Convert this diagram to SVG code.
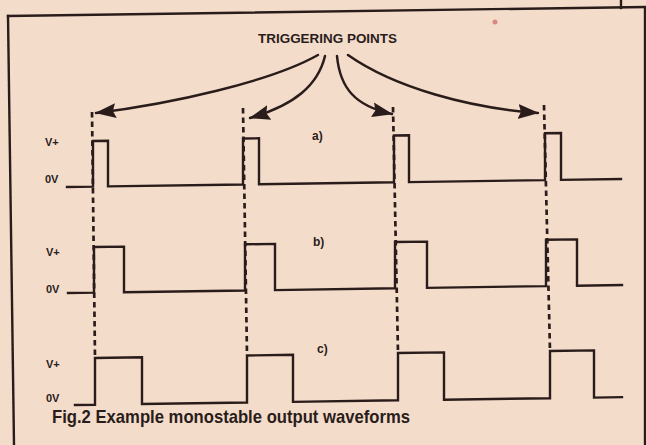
<svg xmlns="http://www.w3.org/2000/svg" width="646" height="445" viewBox="0 0 646 445">
<defs>
<style>
.ink{fill:none;stroke:#2a1c1a;stroke-width:2.4;stroke-linejoin:miter;stroke-linecap:square}
.dash{fill:none;stroke:#2a1c1a;stroke-width:2.7;stroke-dasharray:5.5 4}
.arr{fill:none;stroke:#2a1c1a;stroke-width:2.5;stroke-linecap:round}
.t{font-family:"Liberation Sans Narrow","Liberation Sans",Arial,sans-serif;font-weight:bold;fill:#2a1c1a}
</style>
<marker id="ah" markerUnits="userSpaceOnUse" markerWidth="22" markerHeight="18" viewBox="0 0 22 18" refX="20" refY="9" orient="auto">
<path d="M0,1.5 L21,9 L0,16.5 L3,9 Z" fill="#2a1c1a"/>
</marker>
</defs>
<rect width="646" height="445" fill="#f4dccb"/>
<g id="frame">
<path class="ink" d="M8,16 L646,7"/>
<path class="ink" d="M8,16 L14,445"/>
<path class="ink" d="M621,0 L621,8"/>
<path class="ink" d="M645,9 L645,445"/>
<circle cx="495" cy="22" r="2.5" fill="#d98a80"/>
</g>
<g id="title">
<text class="t" x="258" y="43" font-size="13" textLength="139" lengthAdjust="spacingAndGlyphs">TRIGGERING POINTS</text>
</g>
<g id="connectors">
<path class="arr" marker-end="url(#ah)" d="M318,55 C270,82 170,104 96,113"/>
<path class="arr" marker-end="url(#ah)" d="M325,56 C318,85 295,105 250,118"/>
<path class="arr" marker-end="url(#ah)" d="M337,56 C340,88 355,106 392,114"/>
<path class="arr" marker-end="url(#ah)" d="M348,55 C395,88 470,108 538,113"/>
<path class="dash" d="M92,112 L95,358"/>
<path class="dash" d="M243,108 L247,355"/>
<path class="dash" d="M393,107 L398,353"/>
<path class="dash" d="M544,105 L550,351"/>
</g>
<g id="wave-a">
<polyline class="ink" points="67,187 93,186.6 93,141 108,140.8 108,186.4 243,184.5 243,138.5 259,138.3 259,184.3 394,182.3 394,135.5 409,135.3 409,182.1 545,180.1 545,133.2 561,133 561,179.9 621,179"/>
<text class="t" x="45" y="146" font-size="11">V+</text>
<text class="t" x="45" y="183" font-size="11">0V</text>
<text class="t" x="312" y="140" font-size="12">a)</text>
</g>
<g id="wave-b">
<polyline class="ink" points="68,293 94,292.6 94,247 124,246.6 124,292.2 245,290.5 245,244.3 275,243.9 275,290.1 395,288.3 395,242 427,241.6 427,287.9 546,286.1 546,239.8 577,239.4 577,285.7 622,285"/>
<text class="t" x="46" y="256" font-size="11">V+</text>
<text class="t" x="46" y="293" font-size="11">0V</text>
<text class="t" x="313" y="246" font-size="12">b)</text>
</g>
<g id="wave-c">
<polyline class="ink" points="75,405 95,404.7 95,358 142,357.3 142,404 247,402.5 247,355.5 293,354.8 293,401.9 398,400.3 398,353 444,352.4 444,399.7 550,398.2 550,351 594,350.4 594,397.6 622,397.1"/>
<text class="t" x="46" y="368" font-size="11">V+</text>
<text class="t" x="46" y="402" font-size="11">0V</text>
<text class="t" x="317" y="353" font-size="12">c)</text>
</g>
<g id="caption">
<text class="t" x="52" y="423" font-size="19" textLength="358" lengthAdjust="spacingAndGlyphs">Fig.2 Example monostable output waveforms</text>
</g>
</svg>
